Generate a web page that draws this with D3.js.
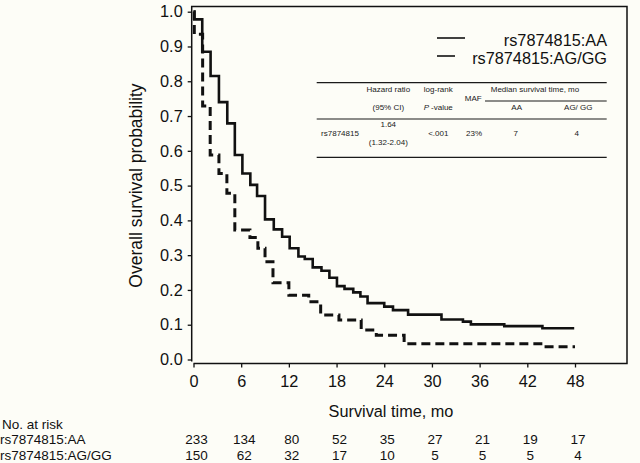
<!DOCTYPE html>
<html><head><meta charset="utf-8">
<script src="https://cdn.jsdelivr.net/npm/d3@7"></script>
<style>
html,body{margin:0;padding:0;background:#fdfdf7;}
svg{display:block;font-family:"Liberation Sans",Arial,sans-serif;}
</style></head>
<body>
<script>
// ---- data ----
const monthTicks = [0, 6, 12, 18, 24, 30, 36, 42, 48];
const survTicks = [0, 0.1, 0.2, 0.3, 0.4, 0.5, 0.6, 0.7, 0.8, 0.9, 1.0];
const groups = ["rs7874815:AA", "rs7874815:AG/GG"];
const aaTime = [0, 0.1, 1.1, 2.15, 3.2, 4.25, 5.2, 6.15, 7.15, 8.0, 9.0, 10.1, 11.15, 12.1, 13.2, 14.0, 15.0, 16.1, 17.1, 18.05, 19.0, 20.1, 21.0, 21.9, 24.0, 25.1, 27.0, 31.2, 33.9, 34.9, 39.1, 43.9, 47.9];
const aaSurv = [1.0, 0.978, 0.885, 0.815, 0.740, 0.679, 0.588, 0.535, 0.502, 0.470, 0.403, 0.374, 0.353, 0.320, 0.296, 0.289, 0.265, 0.255, 0.235, 0.211, 0.203, 0.193, 0.181, 0.162, 0.152, 0.142, 0.129, 0.115, 0.109, 0.101, 0.096, 0.090, 0.090];
const agTime = [0, 0.1, 1.15, 2.1, 3.2, 4.2, 5.2, 7.1, 8.1, 9.0, 10.0, 12.0, 14.5, 16.0, 18.3, 21.1, 23.0, 26.5, 44.0, 48.0];
const agSurv = [1.0, 0.935, 0.729, 0.588, 0.535, 0.478, 0.372, 0.351, 0.320, 0.281, 0.221, 0.185, 0.166, 0.128, 0.1135, 0.085, 0.070, 0.045, 0.037, 0.037];
const atRiskAA = [233, 134, 80, 52, 35, 27, 21, 19, 17];
const atRiskAG = [150, 62, 32, 17, 10, 5, 5, 5, 4];
const tableHeader1 = ["Hazard ratio", "log-rank", "MAF", "Median survival time, mo"];
const tableHeader2 = ["(95% CI)", "-value", "AA", "AG/ GG"];
const tableRow = ["rs7874815", "1.64", "(1.32-2.04)", "<.001", "23%", "7", "4"];

// ---- drawing ----
const W = 640, H = 463, ink = "#111";
const svg = d3.select("body").append("svg").attr("width", W).attr("height", H);
const x = d3.scaleLinear().domain([0, 48]).range([193.5, 575]);
const y = d3.scaleLinear().domain([0, 1]).range([359.5, 11.7]);

// frame / axes lines
svg.append("path").attr("d", "M191.7,361.5 V6.5 H627 V363.5 H193.5")
  .attr("fill", "none").attr("stroke", ink).attr("stroke-width", 1.5);

// y axis
const gy = svg.append("g").attr("transform", "translate(191.7,0)")
  .call(d3.axisLeft(y).tickValues(survTicks).tickFormat(d3.format(".1f")).tickSize(4).tickPadding(5));
gy.select(".domain").remove();
gy.selectAll("line").attr("stroke", ink).attr("stroke-width", 1.3);
gy.selectAll("text").attr("font-size", 16.3).attr("fill", ink).attr("font-family", "Liberation Sans, Arial, sans-serif");

// x axis
const gx = svg.append("g").attr("transform", "translate(0,363.5)")
  .call(d3.axisBottom(x).tickValues(monthTicks).tickSize(4).tickPadding(8));
gx.select(".domain").remove();
gx.selectAll("line").attr("stroke", ink).attr("stroke-width", 1.3);
gx.selectAll("text").attr("font-size", 16.3).attr("fill", ink).attr("font-family", "Liberation Sans, Arial, sans-serif");

// axis titles
svg.append("text").attr("transform", "translate(142,185.5) rotate(-90)")
  .attr("text-anchor", "middle").attr("font-size", 17.5).attr("fill", ink)
  .text("Overall survival probability");
svg.append("text").attr("x", 391).attr("y", 417).attr("text-anchor", "middle")
  .attr("font-size", 16.3).attr("fill", ink).text("Survival time, mo");

// curves
const line = d3.line().x(d => x(d[0])).y(d => y(d[1])).curve(d3.curveStepAfter);
svg.append("path").datum(d3.zip(aaTime, aaSurv)).attr("d", line)
  .attr("fill", "none").attr("stroke", ink).attr("stroke-width", 2.6);
svg.append("path").datum(d3.zip(agTime, agSurv)).attr("d", line)
  .attr("fill", "none").attr("stroke", ink).attr("stroke-width", 3).attr("stroke-dasharray", "9,5");

// legend
const leg = svg.append("g");
leg.append("line").attr("x1", 437).attr("x2", 465).attr("y1", 38).attr("y2", 38)
  .attr("stroke", ink).attr("stroke-width", 1.6);
leg.append("line").attr("x1", 437).attr("x2", 465).attr("y1", 56).attr("y2", 56)
  .attr("stroke", ink).attr("stroke-width", 1.6).attr("stroke-dasharray", "18,12");
leg.selectAll("text.lg").data(groups).join("text").attr("class", "lg")
  .attr("x", 607).attr("y", (d, i) => 46 + i * 17.5).attr("text-anchor", "end")
  .attr("font-size", 16.3).attr("fill", ink).text(d => d);

// table
const tb = svg.append("g").attr("font-size", 8).attr("fill", "#1a1a1a");
const rule = (x1, x2, yy) => tb.append("line").attr("x1", x1).attr("x2", x2).attr("y1", yy).attr("y2", yy)
  .attr("stroke", "#1a1a1a").attr("stroke-width", 1.2);
rule(316.7, 606.7, 82.7); rule(485, 606.7, 101); rule(316.7, 606.7, 119); rule(316.7, 606.7, 157.3);
const t = (tx, ty, s) => tb.append("text").attr("x", tx).attr("y", ty).attr("text-anchor", "middle").text(s);
t(388.3, 92, tableHeader1[0]);
t(438.3, 92, tableHeader1[1]);
t(473.3, 101, tableHeader1[2]);
t(535, 92, tableHeader1[3]);
t(388.3, 110, tableHeader2[0]);
const pv = tb.append("text").attr("x", 438.3).attr("y", 110).attr("text-anchor", "middle");
pv.append("tspan").attr("font-style", "italic").text("P ");
pv.append("tspan").text(tableHeader2[1]);
t(516.7, 110, tableHeader2[2]);
t(578.3, 110, tableHeader2[3]);
t(340, 136, tableRow[0]);
t(388.3, 127, tableRow[1]);
t(388.3, 144.5, tableRow[2]);
t(438.3, 136, tableRow[3]);
t(474, 136, tableRow[4]);
t(515.7, 136, tableRow[5]);
t(576.7, 136, tableRow[6]);

// number at risk
const ar = svg.append("g").attr("font-size", 13.5).attr("fill", ink);
ar.append("text").attr("x", 2).attr("y", 428.5).text("No. at risk");
ar.selectAll("text.rl").data(groups).join("text").attr("class", "rl")
  .attr("x", 0).attr("y", (d, i) => 443.5 + i * 16).text(d => d);
[atRiskAA, atRiskAG].forEach((arr, i) => {
  ar.selectAll("text.n" + i).data(arr).join("text").attr("class", "n" + i)
    .attr("x", (d, j) => x(monthTicks[j]) + 3).attr("y", 443.5 + i * 16)
    .attr("text-anchor", "middle").text(d => d);
});
</script>
</body></html>
